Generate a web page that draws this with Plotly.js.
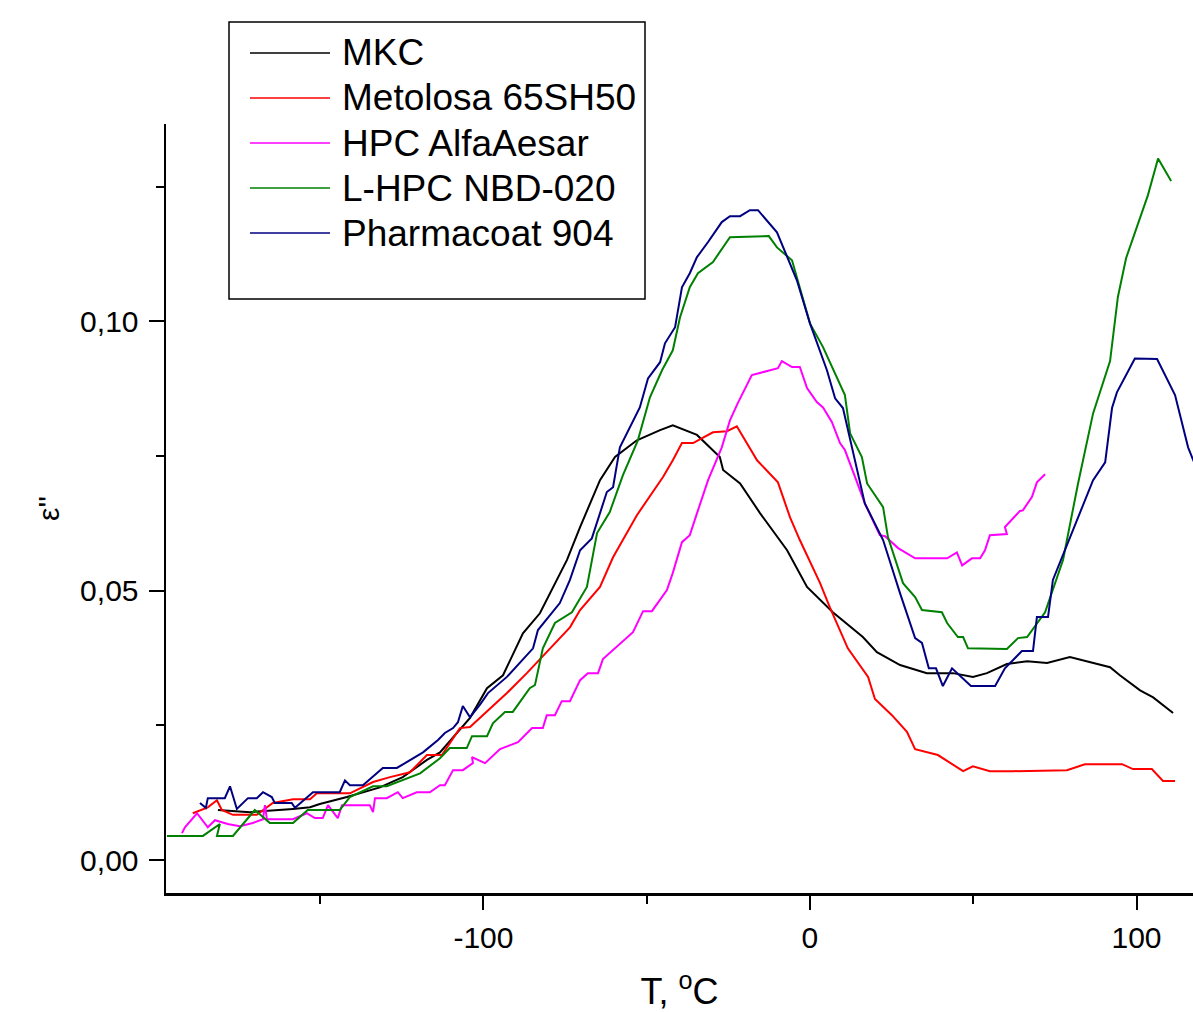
<!DOCTYPE html>
<html>
<head>
<meta charset="utf-8">
<script src="https://cdn.plot.ly/plotly-3.0.1.min.js"></script>
<style>html,body{margin:0;padding:0;background:#fff;}#chart{width:1193px;height:1012px;}</style>
</head>
<body>
<div id="chart"></div>
<script>
// ---- Data (T in °C, ε'') ----
const seriesNames = ["MKC", "Metolosa 65SH50", "HPC AlfaAesar", "L-HPC NBD-020", "Pharmacoat 904"];
const seriesColors = ["#000000", "#FF0000", "#FF00FF", "#008000", "#000080"];

const mkcT = [-181.3,-171.5,-158.3,-153.1,-150.1,-141.8,-131.7,-124.7,-117.3,-113.3,-104.1,-98.9,-94.0,-87.9,-82.7,-79.6,-74.4,-70.4,-64.3,-59.7,-53.0,-45.9,-42.0,-34.6,-27.6,-26.6,-21.4,-15.3,-7.0,-0.9,7.0,16.2,20.5,27.6,35.8,43.8,49.9,54.2,60.3,66.5,72.6,79.6,91.9,94.9,101.1,105.1,111.2];
const mkcV = [0.0093,0.0089,0.0095,0.0098,0.0104,0.0117,0.0135,0.0154,0.0186,0.0200,0.0264,0.0319,0.0343,0.0421,0.0458,0.0495,0.0557,0.0618,0.0705,0.0748,0.0779,0.0798,0.0807,0.0789,0.0748,0.0724,0.0699,0.0644,0.0575,0.0507,0.0460,0.0414,0.0386,0.0362,0.0347,0.0347,0.0340,0.0347,0.0364,0.0369,0.0366,0.0377,0.0358,0.0343,0.0315,0.0302,0.0273];

const metT = [-189.0,-184.4,-181.6,-180.1,-176.7,-169.4,-164.5,-158.3,-153.1,-151.0,-140.9,-133.8,-128.6,-122.5,-117.3,-112.7,-107.2,-104.1,-92.8,-86.7,-73.5,-70.4,-64.3,-60.3,-53.0,-45.0,-42.0,-39.2,-35.8,-29.7,-25.4,-22.4,-16.2,-9.8,-6.1,-3.1,3.1,6.1,11.6,17.8,19.9,25.1,29.7,32.2,39.2,46.9,49.9,55.1,62.2,78.7,84.2,95.6,98.9,104.7,108.1,111.8];
const metV = [0.0087,0.0098,0.0111,0.0093,0.0084,0.0084,0.0106,0.0113,0.0113,0.0124,0.0124,0.0145,0.0154,0.0163,0.0195,0.0195,0.0245,0.0247,0.0310,0.0347,0.0432,0.0464,0.0507,0.0562,0.0640,0.0711,0.0742,0.0774,0.0774,0.0794,0.0796,0.0805,0.0742,0.0701,0.0636,0.0594,0.0514,0.0469,0.0393,0.0340,0.0299,0.0269,0.0238,0.0206,0.0195,0.0165,0.0174,0.0165,0.0165,0.0167,0.0178,0.0178,0.0169,0.0169,0.0147,0.0147];

const hpcT = [-192.3,-191.4,-187.7,-184.4,-182.2,-178.3,-174.6,-170.6,-167.5,-166.9,-166.3,-158.3,-154.1,-151.6,-149.2,-147.6,-144.6,-143.3,-134.8,-133.8,-133.2,-129.6,-126.2,-124.7,-120.4,-116.4,-113.3,-111.8,-109.3,-106.3,-103.2,-103.5,-99.5,-94.9,-89.4,-85.1,-81.8,-80.6,-78.1,-76.0,-73.5,-70.4,-68.0,-64.9,-63.4,-54.2,-51.1,-48.4,-43.8,-42.0,-39.2,-36.8,-34.3,-31.2,-27.0,-24.5,-22.1,-17.8,-9.8,-8.6,-5.5,-3.1,-0.9,2.1,4.0,6.7,9.2,10.7,13.8,16.8,21.4,23.0,27.0,32.2,42.0,45.0,46.6,49.6,52.1,53.6,55.1,60.3,59.7,64.3,65.2,68.0,69.5,72.0];
const hpcV = [0.0050,0.0061,0.0087,0.0061,0.0074,0.0067,0.0063,0.0069,0.0076,0.0102,0.0076,0.0076,0.0087,0.0078,0.0078,0.0102,0.0078,0.0102,0.0102,0.0089,0.0115,0.0115,0.0126,0.0115,0.0126,0.0126,0.0139,0.0139,0.0167,0.0167,0.0180,0.0191,0.0180,0.0206,0.0219,0.0245,0.0245,0.0269,0.0269,0.0295,0.0295,0.0334,0.0347,0.0347,0.0373,0.0423,0.0462,0.0462,0.0501,0.0533,0.0590,0.0603,0.0649,0.0705,0.0766,0.0816,0.0848,0.0900,0.0913,0.0926,0.0915,0.0915,0.0876,0.0850,0.0840,0.0813,0.0774,0.0761,0.0711,0.0662,0.0603,0.0601,0.0579,0.0560,0.0560,0.0571,0.0547,0.0560,0.0560,0.0575,0.0603,0.0605,0.0618,0.0648,0.0649,0.0674,0.0701,0.0716];

const lhpcT = [-196.9,-185.9,-180.7,-181.6,-176.7,-170.0,-165.4,-158.3,-153.8,-144.0,-140.9,-133.8,-129.6,-119.4,-113.3,-110.3,-105.1,-103.5,-98.9,-97.1,-93.4,-91.0,-85.8,-84.2,-81.8,-78.1,-72.9,-68.3,-65.2,-61.3,-57.3,-52.7,-49.0,-45.3,-42.0,-39.8,-36.8,-34.3,-29.7,-24.5,-12.6,-10.1,-5.5,0.0,4.0,10.7,12.3,15.9,17.5,22.4,23.9,28.5,32.2,34.3,40.4,42.0,45.3,46.9,48.4,60.3,63.7,66.5,72.0,77.5,82.1,86.7,91.9,94.3,96.8,103.5,106.6,110.6];
const lhpcV = [0.0045,0.0045,0.0067,0.0045,0.0045,0.0093,0.0069,0.0069,0.0093,0.0093,0.0117,0.0137,0.0137,0.0161,0.0189,0.0208,0.0208,0.0230,0.0230,0.0254,0.0275,0.0275,0.0319,0.0325,0.0393,0.0440,0.0460,0.0507,0.0607,0.0646,0.0714,0.0779,0.0859,0.0909,0.0946,0.1007,0.1063,0.1089,0.1110,0.1156,0.1158,0.1137,0.1113,0.0996,0.0952,0.0863,0.0792,0.0748,0.0699,0.0655,0.0599,0.0514,0.0488,0.0464,0.0460,0.0440,0.0414,0.0414,0.0393,0.0392,0.0412,0.0414,0.0460,0.0557,0.0699,0.0829,0.0926,0.1045,0.1117,0.1234,0.1302,0.1260];

const phT = [-186.8,-185.0,-184.4,-179.2,-177.6,-175.5,-172.1,-169.4,-167.5,-164.8,-163.9,-158.7,-157.7,-152.2,-144.0,-142.4,-140.9,-136.9,-130.8,-126.5,-124.0,-118.5,-113.9,-111.8,-109.3,-107.8,-106.3,-104.1,-101.1,-98.6,-92.8,-84.8,-83.3,-76.6,-73.5,-70.4,-66.8,-62.2,-60.3,-58.2,-52.1,-49.6,-45.9,-44.4,-41.3,-39.2,-36.8,-34.6,-31.2,-27.0,-24.5,-21.4,-18.4,-15.9,-10.1,-4.0,0.0,5.2,7.7,10.1,16.8,22.4,27.6,30.0,32.2,34.3,36.4,38.6,40.7,43.5,49.3,56.7,59.7,64.9,68.3,69.5,72.9,74.4,81.8,86.7,90.4,92.5,94.0,99.5,106.3,111.8,115.8,118.5];
const phV = [0.0106,0.0097,0.0115,0.0115,0.0137,0.0095,0.0115,0.0115,0.0126,0.0117,0.0106,0.0106,0.0097,0.0126,0.0126,0.0148,0.0139,0.0139,0.0171,0.0171,0.0180,0.0200,0.0223,0.0236,0.0245,0.0256,0.0286,0.0265,0.0288,0.0310,0.0340,0.0393,0.0427,0.0477,0.0520,0.0575,0.0597,0.0683,0.0692,0.0766,0.0840,0.0894,0.0924,0.0959,0.0989,0.1063,0.1089,0.1119,0.1147,0.1184,0.1195,0.1195,0.1206,0.1206,0.1165,0.1076,0.0996,0.0909,0.0857,0.0839,0.0662,0.0594,0.0495,0.0451,0.0412,0.0403,0.0356,0.0356,0.0323,0.0356,0.0323,0.0323,0.0356,0.0388,0.0388,0.0451,0.0451,0.0520,0.0631,0.0705,0.0738,0.0839,0.0868,0.0931,0.0930,0.0863,0.0766,0.0725];

const seriesT = [mkcT, metT, hpcT, lhpcT, phT];
const seriesV = [mkcV, metV, hpcV, lhpcV, phV];

// ---- Layout geometry ----
const W = 1193, H = 1012;
const mL = 166, mR = 0, mT = 124, mB = 119;
const px2x = px => (px - mL) / (W - mL - mR);
const py2y = py => (H - mB - py) / (H - mB - mT);

const traces = seriesNames.map((n, i) => ({
  type: 'scatter', mode: 'lines', name: n,
  x: seriesT[i], y: seriesV[i],
  line: {color: seriesColors[i], width: 2},
  showlegend: false
}));

// manual legend box (styled like the original Origin legend)
const shapes = [{
  type: 'rect', xref: 'paper', yref: 'paper',
  x0: px2x(229), x1: px2x(645), y0: py2y(299), y1: py2y(22),
  line: {color: '#000000', width: 1.5}, fillcolor: 'rgba(255,255,255,0)'
}];
const annotations = [];
seriesNames.forEach((n, i) => {
  const yc = 53 + i * 45;
  shapes.push({type: 'line', xref: 'paper', yref: 'paper',
    x0: px2x(250), x1: px2x(330), y0: py2y(yc), y1: py2y(yc),
    line: {color: seriesColors[i], width: 1.5}});
  annotations.push({xref: 'paper', yref: 'paper', x: px2x(340), y: py2y(yc),
    xanchor: 'left', yanchor: 'middle', showarrow: false, text: n,
    font: {family: 'Liberation Sans, Arial, sans-serif', size: 37, color: '#000'}});
});

const font = {family: 'Liberation Sans, Arial, sans-serif', color: '#000'};

const layout = {
  width: W, height: H,
  margin: {l: mL, r: mR, t: mT, b: mB, pad: 0},
  paper_bgcolor: '#ffffff', plot_bgcolor: '#ffffff',
  font: font,
  showlegend: false,
  xaxis: {
    range: [-197.2, 117.3], showgrid: false, zeroline: false,
    showline: true, linecolor: '#000', linewidth: 2.5,
    ticks: 'outside', ticklen: 14, tickwidth: 2, tickcolor: '#000',
    tickmode: 'array', tickvals: [-100, 0, 100], ticktext: ['-100', '0', '100'],
    tickfont: {family: font.family, size: 30, color: '#000'},
    ticklabelstandoff: 2,
    minor: {tickmode: 'linear', tick0: 0, dtick: 50, ticks: 'outside', ticklen: 8, tickwidth: 2, tickcolor: '#000', showgrid: false},
    title: {text: 'T, <sup>o</sup>C', font: {family: font.family, size: 36, color: '#000'}, standoff: 30},
    automargin: false
  },
  yaxis: {
    range: [-0.0061, 0.1366], showgrid: false, zeroline: false,
    showline: true, linecolor: '#000', linewidth: 2.5,
    ticks: 'outside', ticklen: 15, tickwidth: 2, tickcolor: '#000',
    tickmode: 'array', tickvals: [0, 0.05, 0.1], ticktext: ['0,00', '0,05', '0,10'],
    tickfont: {family: font.family, size: 30, color: '#000'},
    ticklabelstandoff: 4,
    minor: {tickmode: 'linear', tick0: 0, dtick: 0.025, ticks: 'outside', ticklen: 8, tickwidth: 2, tickcolor: '#000', showgrid: false},
    title: {text: "ε''", font: {family: font.family, size: 30, color: '#000'}, standoff: 12},
    automargin: false
  },
  shapes: shapes,
  annotations: annotations
};

Plotly.newPlot('chart', traces, layout, {displayModeBar: false, staticPlot: true});
</script>
</body>
</html>
